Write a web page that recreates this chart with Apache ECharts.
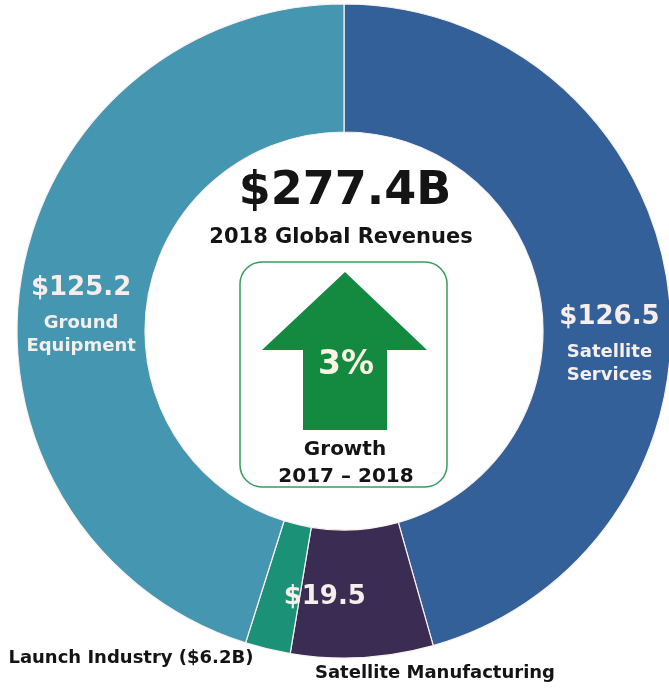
<!DOCTYPE html>
<html>
<head>
    <meta charset="utf-8">
    <title>2018 Global Revenues</title>
    <script src="https://cdn.jsdelivr.net/npm/echarts@6/dist/echarts.min.js"></script>
    <style>
        html, body { margin: 0; padding: 0; background: #ffffff; }
        #main { width: 669px; height: 688px; }
    </style>
</head>
<body>
<div id="main"></div>
<script>
    // segments, clockwise from 12 o'clock
    var segNames = ['Satellite Services', 'Satellite Manufacturing', 'Launch Industry', 'Ground Equipment'];
    var segValues = [126.5, 19.5, 6.2, 125.2];
    var segColors = ['#34609a', '#3b2c54', '#1b9278', '#4596b0'];
    var totalText = '$277.4B';
    var growthText = '3%';

    var font = 'DejaVu Sans';
    var lightText = '#f6eeea';
    var darkText = '#141414';

    // label offsets so the text sits where the original puts it
    var labelOffsets = [[2, 46], [-34, 1], [-151, 69], [0, 21]];

    var pieData = [];
    for (var i = 0; i < segNames.length; i++) {
        var lab = {
            offset: labelOffsets[i]
        };
        if (i == 2) {
            lab.color = darkText;
            lab.fontSize = 18;
            lab.fontWeight = 'bold';
            lab.formatter = function (p) {
                return p.name + ' ($' + p.value + 'B)';
            };
        }
        pieData.push({
            name: segNames[i],
            value: segValues[i],
            itemStyle: { color: segColors[i] },
            label: lab
        });
    }

    var myChart = echarts.init(document.getElementById('main'), null, { renderer: 'canvas' });

    var option = {
        animation: false,
        series: [{
            type: 'pie',
            center: [344, 331],
            radius: [199, 327],
            startAngle: 90,
            clockwise: true,
            silent: true,
            avoidLabelOverlap: false,
            itemStyle: {
                borderColor: '#fbf1f1',
                borderWidth: 1.2
            },
            label: {
                show: true,
                position: 'inside',
                fontFamily: font,
                color: lightText,
                formatter: function (p) {
                    if (p.dataIndex == 1) {
                        return '{a|$' + p.value + '}';
                    }
                    var words = p.name.split(' ');
                    return '{a|$' + p.value + '}\n{b|' + words[0] + '}\n{b|' + words[1] + '}';
                },
                rich: {
                    a: { fontFamily: font, fontSize: 26, fontWeight: 'bold', color: lightText, lineHeight: 46 },
                    b: { fontFamily: font, fontSize: 18, fontWeight: 'bold', color: lightText, lineHeight: 23 }
                }
            },
            labelLine: { show: false },
            data: pieData
        }],
        graphic: [
            {
                type: 'text',
                style: {
                    text: totalText,
                    x: 345, y: 192,
                    align: 'center', verticalAlign: 'middle',
                    font: 'bold 46px "DejaVu Sans"',
                    fill: darkText
                }
            },
            {
                type: 'text',
                style: {
                    text: '2018 Global Revenues',
                    x: 341, y: 238,
                    align: 'center', verticalAlign: 'middle',
                    font: 'bold 21px "DejaVu Sans"',
                    fill: darkText
                }
            },
            {
                type: 'rect',
                shape: { x: 240, y: 262, width: 207, height: 225, r: 22 },
                style: { fill: '#ffffff', stroke: '#3a9a5e', lineWidth: 1.5 }
            },
            {
                type: 'polygon',
                shape: {
                    points: [[345, 272], [427, 350], [387, 350], [387, 430], [303, 430], [303, 350], [262, 350]]
                },
                style: { fill: '#138a40' }
            },
            {
                type: 'text',
                style: {
                    text: growthText,
                    x: 346, y: 365,
                    align: 'center', verticalAlign: 'middle',
                    font: 'bold 33px "DejaVu Sans"',
                    fill: '#fbf3e3'
                }
            },
            {
                type: 'text',
                style: {
                    text: 'Growth',
                    x: 345, y: 450,
                    align: 'center', verticalAlign: 'middle',
                    font: 'bold 20px "DejaVu Sans"',
                    fill: darkText
                }
            },
            {
                type: 'text',
                style: {
                    text: '2017 \u2013 2018',
                    x: 346, y: 477,
                    align: 'center', verticalAlign: 'middle',
                    font: 'bold 20px "DejaVu Sans"',
                    fill: darkText
                }
            },
            {
                type: 'text',
                style: {
                    text: 'Satellite Manufacturing',
                    x: 435, y: 673,
                    align: 'center', verticalAlign: 'middle',
                    font: 'bold 18px "DejaVu Sans"',
                    fill: darkText
                }
            }
        ]
    };

    myChart.setOption(option);
</script>
</body>
</html>
